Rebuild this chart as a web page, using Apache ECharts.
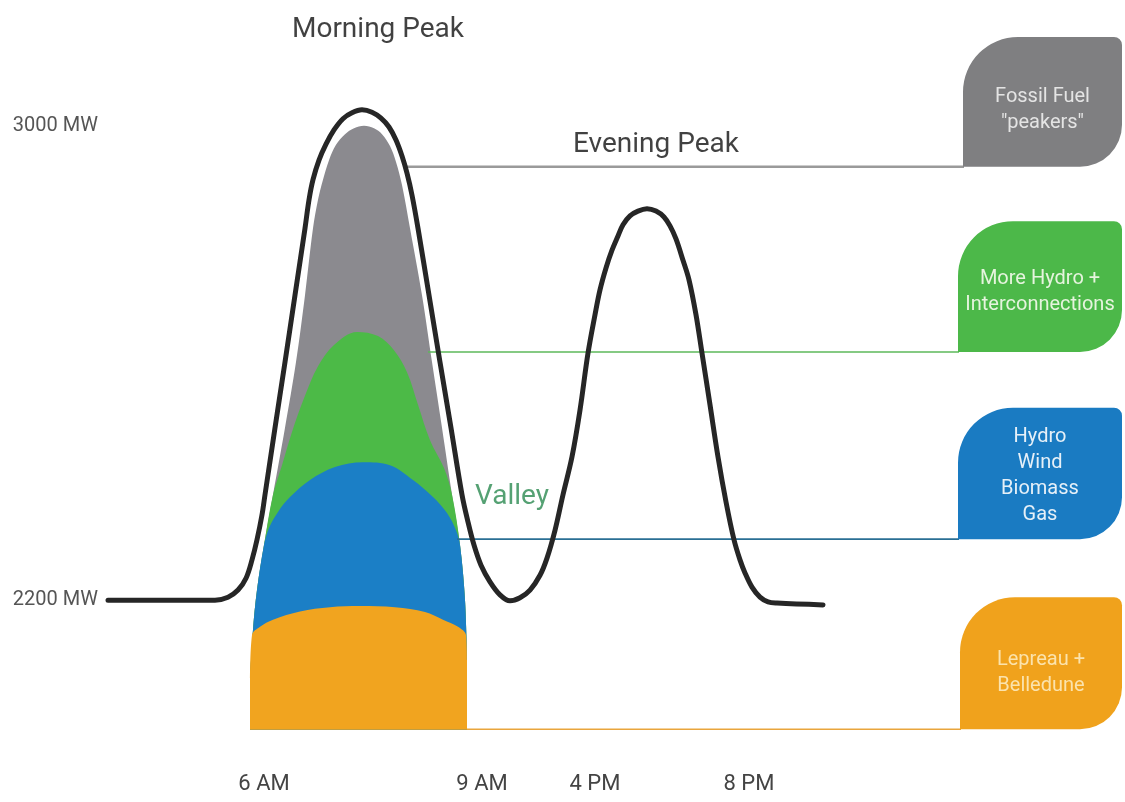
<!DOCTYPE html>
<html><head><meta charset="utf-8">
<script src="https://cdn.jsdelivr.net/npm/echarts@6/dist/echarts.min.js"></script>
<style>html,body{margin:0;padding:0;background:#fff}#c{width:1125px;height:802px}</style>
</head><body><div id="c"></div>
<script>
const FONT = "Roboto, 'Open Sans', sans-serif";

// x: schematic position along the day; y: MW
const tickPositions = [15.9, 37.7, 49.0, 64.4];
const tickLabels = ['6 AM', '9 AM', '4 PM', '8 PM'];
const mwTicks = [2200, 3000];

// demand curve (black)
const demand = [[0.3,2200],[11.0,2200],[12.3,2205],[13.3,2217],[14.1,2237],[14.7,2268],[15.2,2302],[15.7,2344],[16.0,2378],[17.0,2491],[18.0,2602],[19.0,2715],[20.0,2828],[20.4,2876],[20.8,2910],[21.4,2943],[22.1,2970],[22.9,2994],[23.8,3013],[24.7,3023],[25.7,3028],[26.7,3024],[27.6,3014],[28.4,2999],[29.1,2977],[29.7,2950],[30.2,2921],[30.7,2884],[31.3,2828],[32.4,2715],[33.5,2602],[34.6,2491],[35.7,2378],[36.3,2332],[36.9,2293],[37.6,2259],[38.5,2231],[39.5,2209],[40.5,2199],[41.5,2204],[42.5,2217],[43.5,2242],[44.2,2271],[45.0,2318],[45.8,2378],[46.7,2442],[47.5,2521],[48.3,2617],[49.0,2682],[49.5,2724],[50.1,2761],[50.7,2791],[51.3,2815],[51.8,2834],[52.5,2849],[53.3,2857],[54.2,2861],[55.1,2857],[55.9,2847],[56.5,2832],[57.1,2810],[57.8,2774],[58.4,2741],[59.1,2682],[59.7,2617],[60.5,2530],[61.3,2442],[62.1,2366],[62.9,2302],[63.5,2268],[64.0,2246],[64.7,2222],[65.5,2205],[66.3,2197],[67.2,2195],[71.8,2192]];

// supply layers under the morning peak (upper edge of each layer)
const supplyBase = 1981;
const fossilLayer = [[14.5,2065],[14.8,2150],[15.2,2217],[15.9,2293],[16.8,2378],[18.0,2491],[19.1,2602],[20.0,2715],[20.8,2828],[21.3,2876],[21.8,2910],[22.4,2943],[23.1,2969],[24.0,2987],[24.9,2997],[25.9,3001],[26.9,2997],[27.7,2987],[28.5,2967],[29.1,2940],[29.7,2901],[30.5,2828],[31.7,2715],[32.7,2602],[33.7,2491],[34.7,2378],[35.5,2293],[36.0,2200],[36.2,2099]];
const hydroPlusLayer = [[14.5,2065],[14.8,2150],[15.2,2217],[15.9,2293],[16.8,2378],[17.7,2428],[18.7,2484],[19.9,2541],[21.3,2595],[22.9,2631],[25.2,2653],[27.3,2646],[28.9,2622],[30.2,2585],[31.3,2530],[32.5,2470],[33.9,2423],[34.7,2378],[35.5,2293],[36.0,2200],[36.2,2099]];
const mixLayer = [[14.5,2065],[14.8,2150],[15.2,2217],[15.9,2293],[16.4,2322],[17.3,2349],[18.5,2374],[20.5,2403],[23.0,2425],[25.8,2433],[28.5,2428],[30.8,2403],[32.8,2374],[34.2,2347],[35.1,2318],[35.5,2293],[36.0,2200],[36.2,2099]];
const baseLayer = [[14.5,2065],[14.7,2141],[15.5,2155],[16.8,2167],[19.5,2181],[22.5,2188],[25.5,2190],[29.0,2188],[32.0,2180],[33.8,2167],[35.3,2155],[36.1,2141],[36.2,2099]];

// legend boxes on the right
const categories = ['Fossil Fuel\n"peakers"', 'More Hydro +\nInterconnections', 'Hydro\nWind\nBiomass\nGas', 'Lepreau +\nBelledune'];
const boxTop = [3151, 2840, 2525, 2205];
const boxBottom = [2932, 2619, 2303, 1982];
const lineStart = [30.0, 32.3, 35.2, 36.2];
const boxLeft = [85.8, 85.3, 85.3, 85.5];
const boxRight = [101.7, 101.7, 101.7, 101.7];

// annotations
const noteNames = ['Morning Peak', 'Evening Peak', 'Valley'];
const notePositions = [[27.3, 3163], [55.1, 2969], [40.7, 2374]];

const layerColors = ['#8b8a8f', '#4cba47', '#1b7fc6', '#f1a41f'];
const boxColors = ['#7f7f81', '#4cb849', '#1a7bc2', '#f0a21c'];
const lineColors = ['#9a9a9a', '#5cb85a', '#2a6f94', '#e9a53c'];
const lineWidths = [2.5, 1.5, 1.8, 1.5];
const textColors = ['#e4e4e4', '#e6f4de', '#e6f0f8', '#fbe3ad'];
const textShift = [8, 5, 3, 10];
const noteColors = ['#111111', '#111111', '#2a8a50'];

const chart = echarts.init(document.getElementById('c'));

function layer(data, color, z) {
  return {
    type: 'line', data: data, smooth: 0.35, symbol: 'none',
    lineStyle: {width: 0, opacity: 0}, areaStyle: {color: color, opacity: 1, origin: supplyBase},
    z: z, silent: true
  };
}

const boxData = categories.map((c, i) => [lineStart[i], boxLeft[i], boxRight[i], boxTop[i], boxBottom[i]]);
const noteData = noteNames.map((n, i) => ({
  name: n, value: notePositions[i],
  label: {color: noteColors[i]}
}));

chart.setOption({
  animation: false,
  backgroundColor: '#fff',
  grid: {left: 105, right: 0, top: 8, bottom: 39},
  xAxis: {
    type: 'value', min: 0, max: 102,
    axisLine: {show: false}, splitLine: {show: false}, axisTick: {show: false},
    axisLabel: {
      customValues: tickPositions, margin: 10,
      formatter: v => tickLabels[tickPositions.indexOf(v)] || '',
      color: '#444', fontSize: 22, fontFamily: FONT
    }
  },
  yAxis: {
    type: 'value', min: 1925, max: 3200,
    axisLine: {show: false}, splitLine: {show: false}, axisTick: {show: false},
    axisLabel: {
      customValues: mwTicks, margin: 7, padding: [0, 0, 10, 0],
      formatter: v => v + ' MW', color: '#555', fontSize: 20, fontFamily: FONT
    }
  },
  series: [
    layer(fossilLayer, layerColors[0], 1),
    layer(hydroPlusLayer, layerColors[1], 2),
    layer(mixLayer, layerColors[2], 3),
    layer(baseLayer, layerColors[3], 4),
    {
      type: 'custom', z: 5, clip: false, silent: true,
      data: boxData,
      renderItem: (params, api) => {
        const i = params.dataIndex;
        const tl = api.coord([api.value(1), api.value(3)]);
        const br = api.coord([api.value(2), api.value(4)]);
        const ls = api.coord([api.value(0), api.value(4)]);
        return {type: 'group', children: [
          {type: 'line', shape: {x1: ls[0], y1: ls[1], x2: tl[0] + 1, y2: ls[1]},
            style: {stroke: lineColors[i], lineWidth: lineWidths[i]}},
          {type: 'rect', shape: {x: tl[0], y: tl[1], width: br[0] - tl[0], height: br[1] - tl[1], r: [55, 8, 42, 0]},
            style: {fill: boxColors[i]}},
          {type: 'text', x: (tl[0] + br[0]) / 2, y: (tl[1] + br[1]) / 2 + textShift[i],
            style: {text: categories[i], fill: textColors[i], fontSize: 20, fontFamily: FONT,
              align: 'center', verticalAlign: 'middle', lineHeight: 26}}
        ]};
      }
    },
    {
      type: 'line', data: demand, smooth: 0.35, symbol: 'none',
      lineStyle: {color: '#262626', width: 5, cap: 'round', join: 'round'}, z: 6, silent: true
    },
    {
      type: 'scatter', data: noteData, symbolSize: 2, itemStyle: {color: 'rgba(0,0,0,0)'}, z: 7, silent: true,
      label: {
        show: true, position: 'inside',
        formatter: p => p.name,
        fontSize: 28, fontFamily: FONT
      },
      labelLayout: {hideOverlap: false}
    }
  ]
});
</script></body></html>
